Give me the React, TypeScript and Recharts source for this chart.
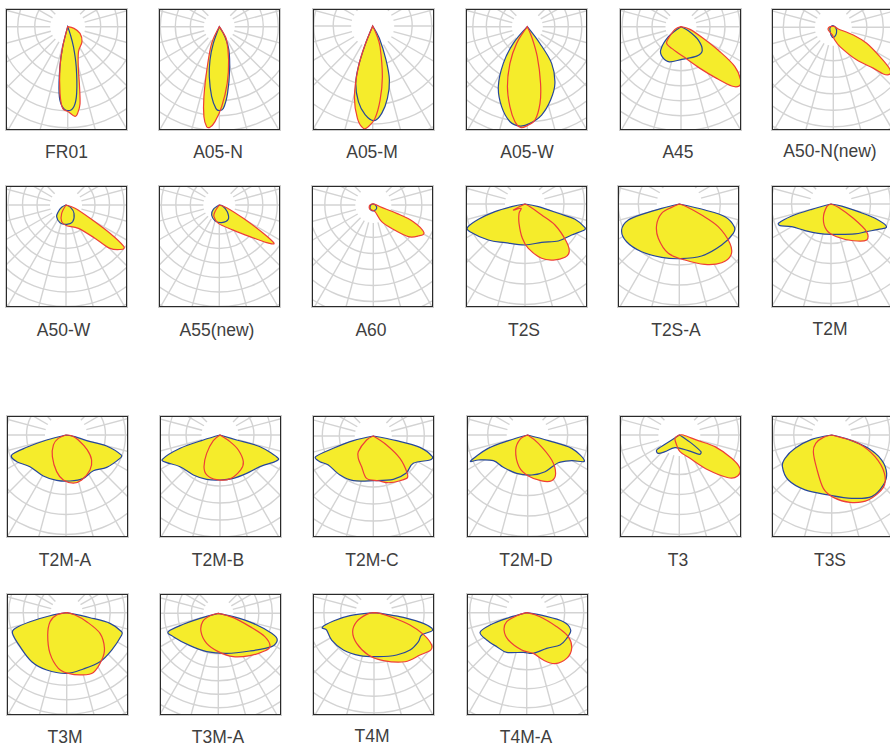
import React from 'react';
import { RadarChart, Radar, PolarGrid, PolarAngleAxis, PolarRadiusAxis } from 'recharts';

// Each series is a list of [angle from straight down in degrees, intensity]
type Pt = [number, number];

const FR01_BLUE: Pt[] = [[-18,0],[-14,21],[-11,41],[-7.4,67],[-4.4,79],[0,84],[4.5,80],[7.7,67],[12,41],[16,21],[19,7],[22,0]];
const FR01_RED: Pt[] = [[-18,0],[-14,21],[-10.9,41],[-6.6,67],[-3.5,82],[0.4,85],[4.7,90],[6.6,87],[9.1,78],[11.6,58],[14.9,41],[23.7,27],[43.7,20.7],[61.6,14],[75,6.5],[85,0]];
const A05N_BLUE: Pt[] = [[-23,0],[-19.8,17.7],[-15.6,34.6],[-11.3,51],[-6.3,70],[-2.3,82],[0,84],[2.8,82],[7.1,67],[13.4,44.5],[22.5,25],[29.5,11.5],[33,0]];
const A05N_RED: Pt[] = [[-28,0],[-24.7,18.3],[-16.7,41.8],[-12.4,71.7],[-9.7,91.3],[-7.2,100.8],[-5.3,101],[-2.6,95],[1.7,80],[8,57],[15.6,34.6],[28.8,15],[33.7,6],[38,0]];
const A05M_BLUE: Pt[] = [[-26,0],[-22,20.5],[-19.4,43],[-16.5,59.8],[-10.7,77],[-4.9,89],[0.8,94.7],[5.9,87.8],[11.5,73.8],[17.2,56.5],[21.4,36.5],[28.4,14],[32,0]];
const A05M_RED: Pt[] = [[-26,0],[-22,20.5],[-19.2,44],[-14.5,73],[-9.4,93.6],[-5.2,102.8],[-2.5,100.8],[1.4,92.4],[5.7,74.4],[10.8,51.6],[19.5,22],[24,9.8],[27,0]];
const A05W_BLUE: Pt[] = [[-45,0],[-40,21.8],[-33.2,43.8],[-25.8,66.6],[-17.8,84],[-10.3,96.6],[-4.2,99.6],[1.6,96.7],[9.2,89.5],[17.6,77],[26,63],[33.6,44],[37,21],[42,0]];
const A05W_RED: Pt[] = [[-36,0],[-32.6,19.8],[-25.3,40.6],[-18.4,63],[-12.2,82],[-7.4,95.8],[-3.8,101],[-0.4,99.3],[4.7,93.6],[9.4,77.7],[13.2,58],[18.4,31.6],[23.4,10.9],[27,0]];
const A45_BLUE: Pt[] = [[-60,0],[-51.7,16],[-41,31],[-30.9,35.7],[-18.3,37],[1.2,32.7],[28,33.3],[41.6,32],[52.4,21.9],[61.4,8.4],[68,0]];
const A45_RED: Pt[] = [[-75,0],[-66,6.6],[-47,17.2],[-40.7,22],[-23.3,23.6],[4.4,30],[24.5,45.8],[34.6,62.8],[40.5,78],[44.5,83],[48.2,80],[53.5,67],[57.3,46.3],[62.4,25],[73.5,9.4],[80,0]];
const A50N_BLUE: Pt[] = [[-129,2.1],[-79,3.4],[-51,4.3],[-17,8],[0,10.3],[19,8],[45,4.7],[82,2.4],[153,1.5]];
const A50N_RED: Pt[] = [[-120,2],[-90,4.5],[-62,5.7],[-7.4,7.7],[4.8,12],[19,20.5],[35.5,40],[44.3,57],[47,68.4],[50.5,73.4],[53.8,69.4],[57.8,55],[64.4,37],[69,21.4],[71.6,5.3],[90,2.5],[150,1]];
const A50W_BLUE: Pt[] = [[-75,0],[-62,4.9],[-49,10.2],[-38.7,15],[-18.8,18.7],[2,19.3],[21.8,18],[44,11.5],[63,5.2],[80,0]];
const A50W_RED: Pt[] = [[-35,0],[-27.5,9.4],[-14.6,17.2],[1.8,20.7],[27.9,26.4],[41,44],[45.4,61.8],[52,71.9],[54.3,71.4],[57.2,52.3],[61,27.5],[69.7,9.6],[80,0]];
const A55_BLUE: Pt[] = [[-70,0],[-54,7.4],[-37.5,12.6],[-15.5,16.3],[7.5,17.8],[32,16.9],[50,10.4],[73,3.5],[80,0]];
const A55_RED: Pt[] = [[-40,0],[-33,8],[-24.6,12.8],[-3,18.4],[29,28.7],[44,44],[51.5,60.5],[55,66.8],[57.2,52.3],[61,27.5],[70,7.8],[78,0]];
const A60_BLUE: Pt[] = [[-146,1.2],[-63,3.7],[-25,5.5],[6.7,5.7],[45,4.7],[82,2.4]];
const A60_RED: Pt[] = [[-120,2],[-76,4.1],[-37.6,5.5],[14,6.9],[26.6,18.6],[39.4,31.5],[47.9,47.2],[55.4,54.6],[61.4,57.7],[67.4,43.3],[70.3,24.8],[74.4,8.7],[112,1.8]];
const T2S_BLUE: Pt[] = [[-80,0],[-78.7,13.6],[-75.7,31],[-71.8,49],[-67.7,62.3],[-63.3,61.6],[-45.5,51.4],[-27.3,43.5],[0,41],[23.5,41.8],[42,49.8],[56.4,56],[66.3,64.8],[68.5,64.5],[73,52.3],[74.4,34.6],[78.7,13.6],[80,0]];
const T2S_RED: Pt[] = [[-70,0],[-62.8,13],[-42.7,5.9],[-32.7,11],[-17.2,20.2],[-4.4,34.4],[4.3,44.5],[17,56.8],[26.8,62.8],[36.9,66.7],[42.9,65],[47.9,55.5],[55,36.6],[56.6,20],[62,5.7],[68,0]];
const T2SA_BLUE: Pt[] = [[-80,0],[-76.2,18.2],[-74.8,35.6],[-72.6,53.4],[-65.7,63.3],[-54.4,64.8],[-38.3,60.8],[-18.3,56.2],[0,54.7],[23.2,56.6],[45.9,59],[61.5,61.4],[67.6,59.5],[74.5,47.4],[76.8,26.4],[80,0]];
const T2SA_RED: Pt[] = [[-72,0],[-66.5,8.4],[-62.2,20],[-47.2,30.9],[-31.5,40.2],[-12.6,50.5],[5.8,56.3],[23,65.6],[35.8,72.4],[45.4,72.6],[52.2,64],[59.8,45],[63.8,24.9],[70,7.8],[76,0]];
const T2M_BLUE: Pt[] = [[-80,0],[-74.6,20],[-73,41],[-69.8,56],[-67,55.4],[-60,45.4],[-44.3,37.2],[-23.4,32],[1.3,30.3],[38.7,38.4],[52.2,45],[61.8,53.7],[67.8,60],[72,46.3],[74.3,28.4],[79,10.9],[82,0]];
const T2M_RED: Pt[] = [[-70,0],[-58,5],[-28,16.3],[-9.5,26.4],[9.8,33.2],[31.3,43],[44.7,50.7],[52.2,45],[57.3,26.5],[65.6,8],[72,0]];
const T2MA_BLUE: Pt[] = [[-80,0],[-75.5,20],[-72.6,41.2],[-69.8,57.9],[-61.6,56],[-48.7,48],[-29,46.8],[-11.6,46.3],[5,46.2],[21.8,46.7],[37.5,45],[51.5,52],[66.6,58.8],[70,59],[74.9,42],[74.7,21.4],[79.5,9],[82,0]];
const T2MA_RED: Pt[] = [[-85,0],[-66.5,8.4],[-51.7,16],[-32.2,25.6],[-14.3,37.8],[-3.4,45],[8.7,48.6],[19.2,47.7],[34.4,42.4],[45.7,35.8],[54.9,26],[67.9,13.3],[83,5.7],[90,0]];
const T2MB_BLUE: Pt[] = [[-82,0],[-73.3,17.4],[-71.6,42],[-67.1,62.6],[-62.6,60],[-51.6,51],[-33.7,48],[-16.7,46.3],[0,45],[17.1,45.3],[34.8,46.7],[51.6,51],[64.1,61],[68.2,62.8],[73.7,41.7],[73.3,17.4],[82,0]];
const T2MB_RED: Pt[] = [[-55,0],[-49.6,8.8],[-36,22.7],[-26.8,35.5],[-18.4,42],[-4.3,44.8],[12.8,45],[30.6,40.6],[41.2,35.4],[50.7,23.7],[56.3,12],[65,0]];
const T2MC_BLUE: Pt[] = [[-82,0],[-76.9,20.5],[-72.9,41.9],[-70.3,61.2],[-64.3,59.2],[-57.2,53.5],[-40.5,51.3],[-24.1,48.9],[0,44.7],[24.8,47.7],[41.2,49.6],[55.7,48.4],[67,61.5],[70.7,62.6],[76.3,48],[78.7,23.8],[82,0]];
const T2MC_RED: Pt[] = [[-65,0],[-59,7.8],[-43.8,21.7],[-33.9,26.9],[-20.8,32.8],[-9,42.9],[6.4,45],[19.7,49.6],[38.2,53.9],[42.3,50.5],[50,34.8],[56,16],[62,0]];
const T2MD_BLUE: Pt[] = [[-78,0],[-73.7,20],[-71.3,41.8],[-65.5,62.7],[-63.1,55.3],[-53.2,42.9],[-37,40.5],[-16,39.9],[5.7,40.2],[25.3,40.6],[47.9,41.3],[59.7,50.9],[65.4,62.4],[73.1,46],[74.7,21.4],[80,0]];
const T2MD_RED: Pt[] = [[-68,0],[-60.5,8.8],[-38.7,19.2],[-15.3,32.8],[0.9,41],[16.9,48],[27.7,51.6],[36,47.5],[43.8,34.7],[52,13.5],[60,0]];
const T3_BLUE: Pt[] = [[-62,0],[-56.7,15.2],[-56.5,27],[-48.9,27.9],[-40.7,22],[-18.9,13.4],[29.9,18],[46,27.8],[52.4,27.3],[55.9,14.9],[61,3.4],[65,0]];
const T3_RED: Pt[] = [[-60,0],[-52,5.5],[-15,10.3],[2.3,16.7],[24.6,25.7],[39.6,45.5],[48.9,65],[54.9,71.3],[61.2,69.2],[66,57.3],[71.9,37.5],[73.4,19.8],[90,4],[100,0]];
const T3S_BLUE: Pt[] = [[-82,0],[-77.8,20.5],[-70,39],[-63.4,52.2],[-57.3,58.6],[-43.9,62.5],[-25.9,61],[-3.2,60],[17.5,66.4],[33,73.5],[46,71.9],[55.1,67],[63.4,55.9],[70,39],[75.4,17.2],[80,0]];
const T3S_RED: Pt[] = [[-80,0],[-74,8.7],[-62.5,18],[-47.7,24.8],[-24.2,36.6],[-8.9,54],[1.5,62.4],[15.2,69.8],[29.4,74.6],[44.6,73.5],[54,65.2],[63.4,48.4],[72.6,27.9],[75,10.3],[82,0]];
const T3M_BLUE: Pt[] = [[-83,0],[-79.8,17],[-76.2,37.8],[-73.1,54],[-69.2,58],[-53.9,57.7],[-35.5,60.2],[-19.2,60.7],[0,60.7],[16.5,58.7],[34.2,59.3],[50.3,58.5],[67.9,59.4],[70.9,58.2],[76.2,44.6],[77.9,23.9],[83,0]];
const T3M_RED: Pt[] = [[-84,0],[-76.9,10.3],[-61.6,18.9],[-40.4,29.3],[-22.3,44],[-8.5,56.3],[1.6,60.7],[13.5,64],[24.1,65.4],[36.5,58.9],[46.6,52],[58.2,39.2],[65.8,21.9],[74.4,8.7],[82,0]];
const T3MA_BLUE: Pt[] = [[-80,0],[-74.7,19],[-72.6,36.7],[-69.9,53.3],[-62.6,50.7],[-41.2,43],[-16.9,40],[11.8,40.9],[40,49.2],[58,62.9],[65.7,64.7],[69.4,57],[74,36.4],[77.5,15.4],[80,0]];
const T3MA_RED: Pt[] = [[-80,0],[-74,8.7],[-62,17.7],[-43.4,25.2],[-21.2,32.2],[0,38.3],[19,45.9],[36.8,52.9],[49.6,59],[57.2,61.5],[63.4,52],[67.2,34.4],[73.9,15.6],[80,0]];
const T4M_BLUE: Pt[] = [[-86,0],[-82.9,24.2],[-78.4,41.5],[-74.2,53.7],[-69.9,50.4],[-57.1,50.4],[-39.4,48.3],[-18,45.2],[5.6,44.2],[28.2,48],[44,51.9],[56.8,53],[64.9,52.6],[73.5,61.2],[77.8,50.5],[81,29.7],[82.5,12.8],[86,0]];
const T4M_RED: Pt[] = [[-84,0],[-77.2,7.5],[-62.6,19.5],[-48.3,28.6],[-29.5,35.2],[-7.6,42.7],[11,48.9],[32.3,58],[47.4,62.5],[56.6,67.9],[61.2,65.4],[66.3,53.9],[71.1,38],[75.5,20],[83.7,6],[88,0]];
const T4MA_BLUE: Pt[] = [[-84,0],[-74.2,20.8],[-71.4,38.7],[-67.2,50.6],[-55.7,48.4],[-41.4,45.3],[-26.8,44.4],[-4.8,39.8],[9.3,41.2],[29.3,40.9],[45.9,46.4],[57.3,47.5],[68.5,47.3],[76.2,37.8],[79.8,16.9],[84,0]];
const T4MA_RED: Pt[] = [[-80,0],[-73.3,10.4],[-65.8,21.9],[-52.6,28.5],[-33.9,32.9],[-7.6,37.7],[9.3,41.2],[19.4,50.2],[29.1,58.3],[41.2,60.7],[51.6,57.4],[60,48],[65,33.1],[73.3,13.9],[80,0]];

const SERIES: [string, Pt[], Pt[]][] = [
  ['FR01', FR01_BLUE, FR01_RED], ['A05-N', A05N_BLUE, A05N_RED], ['A05-M', A05M_BLUE, A05M_RED],
  ['A05-W', A05W_BLUE, A05W_RED], ['A45', A45_BLUE, A45_RED], ['A50-N(new)', A50N_BLUE, A50N_RED],
  ['A50-W', A50W_BLUE, A50W_RED], ['A55(new)', A55_BLUE, A55_RED], ['A60', A60_BLUE, A60_RED],
  ['T2S', T2S_BLUE, T2S_RED], ['T2S-A', T2SA_BLUE, T2SA_RED], ['T2M', T2M_BLUE, T2M_RED],
  ['T2M-A', T2MA_BLUE, T2MA_RED], ['T2M-B', T2MB_BLUE, T2MB_RED], ['T2M-C', T2MC_BLUE, T2MC_RED],
  ['T2M-D', T2MD_BLUE, T2MD_RED], ['T3', T3_BLUE, T3_RED], ['T3S', T3S_BLUE, T3S_RED],
  ['T3M', T3M_BLUE, T3M_RED], ['T3M-A', T3MA_BLUE, T3MA_RED], ['T4M', T4M_BLUE, T4M_RED],
  ['T4M-A', T4MA_BLUE, T4MA_RED],
];

// left, top, centre x, centre y, white disc radius, ring step, label x, label y (page pixels)
const LAYOUT: number[][] = [
  [6, 9, 67.7, 26.7, 16, 17, 66.5, 152], [159, 9, 219.3, 26.7, 14, 15, 218, 152], [313, 9, 372.7, 26, 20, 19.5, 372, 152],
  [466, 9, 527.3, 26.7, 14, 13.5, 527, 152], [620, 9, 681, 26.7, 14, 15, 678, 152], [772, 9, 833.3, 27.3, 17, 16.5, 830, 151],
  [6, 186, 66, 205, 14.5, 14.5, 63.5, 329.5], [159, 186, 219.3, 205, 14.5, 14.5, 217, 329.5], [312, 186, 373.3, 205, 16.5, 16, 371, 329.5],
  [466, 186, 525, 204, 18.5, 20.5, 524, 329.5], [618, 186, 679.3, 204, 21, 20, 676, 329.5], [772, 186, 831, 204, 19.5, 20, 830, 328.5],
  [7, 416, 66, 435, 19.5, 20, 65, 560], [160, 416, 220, 435, 17, 17, 218, 560], [313, 416, 373.3, 436, 17, 17, 372, 560],
  [467, 416, 527.7, 435, 19.5, 20.5, 526, 560], [620, 416, 679.3, 435, 19.5, 20, 678, 560], [772, 416, 831.7, 435, 18, 20, 830, 560],
  [7, 594, 66.7, 612.7, 14.5, 14.5, 65, 737], [160, 594, 218.3, 613.3, 13.5, 13.5, 218, 737], [313, 594, 374, 612.7, 16.7, 16.7, 372, 736],
  [467, 594, 526.7, 612.7, 19, 19, 526, 737],
];

const RAY_ANGLES = [-225, -210, -195, -180, -165, -150, -135, -120, -105, -90, -75, -60, -45, -30, -15, 0, 15, 30, 45];
const RINGS = [1, 2, 3, 4, 5, 6, 7, 8, 9];
const FULL_SCALE = 220;

const YELLOW = '#f5ec2b';
const BLUE = '#27479b';
const RED = '#ee3e38';
const GRID = '#d3d3d3';

// closed curve through the points the Radar computed, kept sharp where the lobe meets the centre
function SmoothLobe(props: any) {
  const pts = (props.points || []).filter((p: any) => Number.isFinite(p.x) && p.value != null);
  const n = pts.length;
  if (n < 3) return null;
  const tangent = (i: number, len: number) => {
    const cur = pts[(i + n) % n];
    if (cur.value === 0) return [0, 0];
    const a = pts[(i - 1 + n) % n];
    const b = pts[(i + 1) % n];
    const dx = (b.x - a.x) / 6;
    const dy = (b.y - a.y) / 6;
    const m = Math.hypot(dx, dy);
    const k = m > len * 0.4 ? (len * 0.4) / m : 1;
    return [dx * k, dy * k];
  };
  let d = `M${pts[0].x},${pts[0].y}`;
  for (let i = 0; i < n; i++) {
    const p = pts[i];
    const q = pts[(i + 1) % n];
    const len = Math.hypot(q.x - p.x, q.y - p.y);
    const t1 = tangent(i, len);
    const t2 = tangent(i + 1, len);
    d += `C${p.x + t1[0]},${p.y + t1[1]} ${q.x - t2[0]},${q.y - t2[1]} ${q.x},${q.y}`;
  }
  return <path d={d + 'Z'} fill={props.fill} fillOpacity={1} stroke={props.stroke} strokeWidth={props.strokeWidth} />;
}

function Diagram({ index }: { index: number }) {
  const [name, blue, red] = SERIES[index];
  const [left, top, cx, cy, disc, step, labelX, labelY] = LAYOUT[index];
  const rows = [
    ...blue.map(([angle, v]) => ({ angle, blue: v })),
    ...red.map(([angle, v]) => ({ angle, red: v })),
  ];
  const chartBox = { position: 'absolute', left: 0, top: 0 } as const;
  return (
    <>
      <div
        style={{
          position: 'absolute',
          left,
          top,
          width: 121,
          height: 121,
          boxSizing: 'border-box',
          border: '1px solid #2a2a2a',
          boxShadow: '0 0 0 1px rgba(90,90,90,0.3)',
          overflow: 'hidden',
        }}
      >
        {/* grid sits in its own chart so its rays can stop at the white disc */}
        <div style={chartBox}>
          <RadarChart
            width={119}
            height={119}
            data={rows}
            cx={cx - left - 1}
            cy={cy - top - 1}
            outerRadius={FULL_SCALE}
            innerRadius={disc + 1.5}
            margin={{ top: 0, right: 0, bottom: 0, left: 0 }}
          >
            <PolarGrid
              gridType="circle"
              polarAngles={RAY_ANGLES}
              polarRadius={RINGS.map((k) => disc + k * step)}
              stroke={GRID}
              strokeWidth={1.4}
            />
          </RadarChart>
        </div>
        <div style={chartBox}>
          <RadarChart
            width={119}
            height={119}
            data={rows}
            cx={cx - left - 1}
            cy={cy - top - 1}
            outerRadius={FULL_SCALE}
            innerRadius={0}
            startAngle={-270}
            endAngle={90}
            margin={{ top: 0, right: 0, bottom: 0, left: 0 }}
          >
            <PolarAngleAxis dataKey="angle" type="number" domain={[-180, 180]} tick={false} axisLine={false} />
            <PolarRadiusAxis type="number" domain={[0, FULL_SCALE]} tick={false} axisLine={false} />
            <Radar dataKey="blue" connectNulls shape={SmoothLobe} fill={YELLOW} stroke="none" isAnimationActive={false} />
            <Radar dataKey="red" connectNulls shape={SmoothLobe} fill={YELLOW} stroke="none" isAnimationActive={false} />
            <Radar dataKey="blue" connectNulls shape={SmoothLobe} fill="none" stroke={BLUE} strokeWidth={1.2} isAnimationActive={false} />
            <Radar dataKey="red" connectNulls shape={SmoothLobe} fill="none" stroke={RED} strokeWidth={1.2} isAnimationActive={false} />
          </RadarChart>
        </div>
      </div>
      <div
        style={{
          position: 'absolute',
          left: labelX - 60,
          top: labelY - 11,
          width: 120,
          height: 22,
          lineHeight: '22px',
          textAlign: 'center',
          fontFamily: '"Liberation Sans", sans-serif',
          fontSize: 17.5,
          color: '#3f3f3f',
          whiteSpace: 'nowrap',
        }}
      >
        {name}
      </div>
    </>
  );
}

export default function App() {
  return (
    <div style={{ position: 'fixed', left: 0, top: 0, width: 890, height: 747, overflow: 'hidden', background: '#fff' }}>
      {SERIES.map((s, i) => (
        <Diagram key={s[0]} index={i} />
      ))}
    </div>
  );
}
